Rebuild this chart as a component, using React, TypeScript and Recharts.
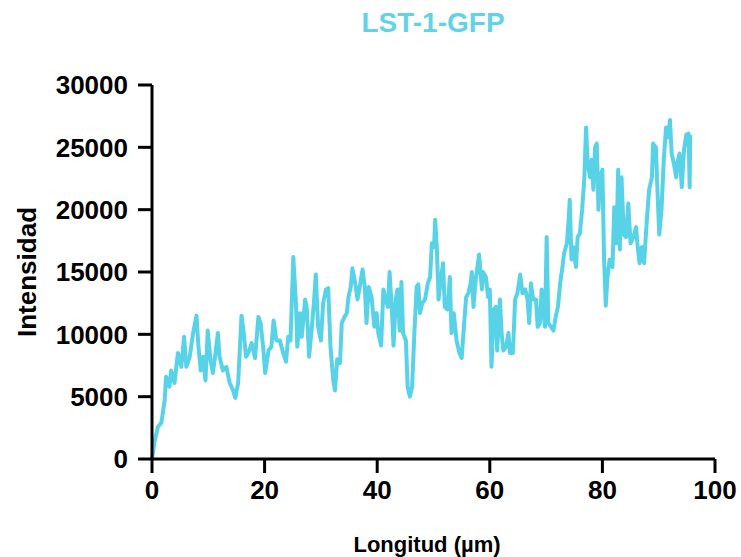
import { LineChart, Line, XAxis, YAxis, Label } from "recharts";

// distance along the worm (µm) and measured GFP intensity
const distance = [
  0, 0.5, 1.07, 1.66, 2.25, 2.5, 3.1, 3.4, 4.0, 4.6, 5.2, 5.7, 6.1, 6.7, 7.3, 7.9, 8.2, 8.65, 9.06, 9.5,
  9.9, 10.4, 10.8, 11.2, 11.7, 12.0, 12.6, 13.2, 13.8, 14.4, 14.8, 15.3, 15.9, 16.3, 16.7, 17.1, 17.7, 18.3, 18.9, 19.3,
  19.8, 20.1, 20.7, 21.2, 21.6, 22.1, 22.7, 23.3, 23.8, 24.2, 24.6, 25.1, 25.6, 25.8, 26.3, 26.6, 27.2, 27.5, 27.9, 28.4,
  28.8, 29.1, 29.5, 30.0, 30.4, 30.9, 31.3, 31.7, 32.2, 32.5, 32.9, 33.4, 33.7, 34.2, 34.6, 34.9, 35.3, 35.6, 36.1, 36.5,
  36.9, 37.4, 37.8, 38.1, 38.5, 39.0, 39.5, 39.9, 40.2, 40.7, 41.1, 41.4, 41.9, 42.2, 42.6, 42.9, 43.3, 43.6, 44.0, 44.3,
  44.6, 45.1, 45.4, 45.8, 46.2, 46.6, 47.0, 47.3, 47.6, 48.0, 48.5, 49.0, 49.4, 49.7, 50.1, 50.3, 50.6, 50.9, 51.3, 51.7,
  52.0, 52.5, 52.9, 53.2, 53.6, 54.1, 54.6, 55.0, 55.4, 55.8, 56.2, 56.6, 56.8, 57.1, 57.5, 57.8, 58.1, 58.6, 58.8, 59.3,
  59.7, 60.0, 60.3, 60.7, 61.1, 61.3, 61.8, 62.1, 62.4, 62.9, 63.3, 63.6, 64.1, 64.5, 64.9, 65.4, 65.8, 66.3, 66.7, 67.0,
  67.3, 67.7, 68.2, 68.5, 68.9, 69.2, 69.5, 69.8, 70.1, 70.4, 70.9, 71.3, 71.7, 72.1, 72.5, 72.9, 73.2, 73.7, 74.0, 74.2,
  74.5, 74.8, 75.3, 75.6, 76.0, 76.4, 76.8, 77.1, 77.4, 77.8, 78.1, 78.4, 78.7, 79.0, 79.3, 79.6, 80.0, 80.3, 80.6, 80.9,
  81.3, 81.8, 82.1, 82.5, 82.8, 83.1, 83.4, 83.8, 84.2, 84.6, 85.0, 85.5, 86.0, 86.2, 86.6, 87.0, 87.4, 87.9, 88.3, 88.8,
  89.0, 89.5, 89.8, 90.1, 90.5, 90.9, 91.3, 91.7, 92.0, 92.3, 92.7, 93.1, 93.3, 93.7, 94.1, 94.5, 94.9, 95.3, 95.5, 95.6,
];

const intensity = [
  0, 1500, 2600, 2900, 4700, 6600, 5800, 7100, 6100, 8500, 7400, 9800, 7400, 8200, 10100, 11500, 9300, 7100, 8200, 6300,
  10300, 7900, 6900, 8200, 10100, 8200, 7100, 7400, 6100, 5500, 4900, 6100, 11500, 10100, 8200, 8500, 9300, 8100, 11400, 10900,
  8700, 6900, 8700, 9000, 11100, 9500, 9500, 8500, 7800, 9800, 9500, 16200, 12200, 9000, 11700, 9800, 12800, 12000, 8200, 10600,
  12800, 14800, 10600, 9500, 12500, 13600, 13700, 9000, 6300, 5500, 8000, 7700, 10900, 11400, 11700, 13000, 13800, 15300, 14100, 12800,
  13800, 15200, 13800, 10900, 13800, 13000, 10600, 11700, 10100, 9100, 13600, 13000, 12200, 15000, 12000, 9100, 12800, 13600, 10300, 14200,
  10100, 9500, 5800, 5000, 5800, 10100, 13800, 14000, 11700, 12500, 12800, 14100, 14600, 17300, 17000, 19200, 16800, 12800, 14400, 15700,
  12200, 12000, 14600, 10100, 11700, 9500, 8500, 8100, 10600, 13000, 13300, 14100, 15000, 12200, 14400, 15400, 16400, 13600, 15000, 14600,
  13000, 13600, 7400, 12000, 12200, 8700, 12800, 10100, 8700, 9000, 10100, 8500, 8500, 12800, 13300, 14800, 13300, 13600, 12800, 10900,
  14100, 12800, 12800, 10600, 10900, 13600, 12000, 10600, 17800, 10900, 10600, 10300, 11400, 12200, 14100, 15400, 16500, 17300, 19200, 20800,
  16000, 17000, 15400, 17800, 18100, 20000, 22600, 26600, 23700, 22600, 24000, 21600, 25000, 25300, 20000, 22600, 23200, 16000, 12300, 14600,
  16000, 15400, 20200, 17300, 23200, 16800, 22600, 18000, 17800, 20500, 17300, 17800, 18600, 17300, 15700, 17000, 15700, 19200, 21600, 22600,
  25300, 25000, 21300, 18000, 20000, 24000, 26600, 25800, 27200, 24500, 23700, 22600, 23700, 24500, 21800, 24800, 26000, 26100, 21800, 26000,
];

const xTicks = [0, 20, 40, 60, 80, 100];
const yTicks = [0, 5000, 10000, 15000, 20000, 25000, 30000];

const data = distance.map((d, i) => ({ d, v: intensity[i] }));

const FONT = '"Liberation Sans", Arial, sans-serif';
const CYAN = "#58d2e6";

export default function App() {
  return (
    <div style={{ position: "absolute", left: 0, top: 0, width: 741, height: 557, background: "#fff" }}>
      <div
        style={{
          position: "absolute",
          top: 5,
          left: 0,
          width: 866,
          textAlign: "center",
          fontFamily: FONT,
          fontWeight: 700,
          fontSize: 28,
          color: "#62d3e6",
          lineHeight: "36px",
        }}
      >
        LST-1-GFP
      </div>
      <LineChart width={741} height={557} data={data} margin={{ top: 85, right: 26, bottom: 38, left: 0 }}>
        <XAxis
          dataKey="d"
          type="number"
          domain={[0, 100]}
          ticks={xTicks}
          height={60}
          tickSize={14}
          tickMargin={8}
          stroke="#000"
          strokeWidth={3}
          tick={{ fill: "#000", fontSize: 26, fontWeight: 700, fontFamily: FONT }}
        >
          <Label
            content={() => (
              <text x={427} y={552} textAnchor="middle" fontFamily={FONT} fontWeight={700} fontSize={22} fill="#000">
                Longitud (µm)
              </text>
            )}
          />
        </XAxis>
        <YAxis
          type="number"
          domain={[0, 30000]}
          ticks={yTicks}
          width={152}
          tickSize={14}
          tickMargin={10}
          stroke="#000"
          strokeWidth={3}
          tick={{ fill: "#000", fontSize: 26, fontWeight: 700, fontFamily: FONT }}
        >
          <Label
            content={() => (
              <text
                x={0}
                y={0}
                transform="translate(36 272) rotate(-90)"
                textAnchor="middle"
                fontFamily={FONT}
                fontWeight={700}
                fontSize={26}
                fill="#000"
              >
                Intensidad
              </text>
            )}
          />
        </YAxis>
        <Line
          type="linear"
          dataKey="v"
          stroke={CYAN}
          strokeWidth={4}
          strokeLinejoin="round"
          dot={false}
          isAnimationActive={false}
        />
      </LineChart>
    </div>
  );
}
